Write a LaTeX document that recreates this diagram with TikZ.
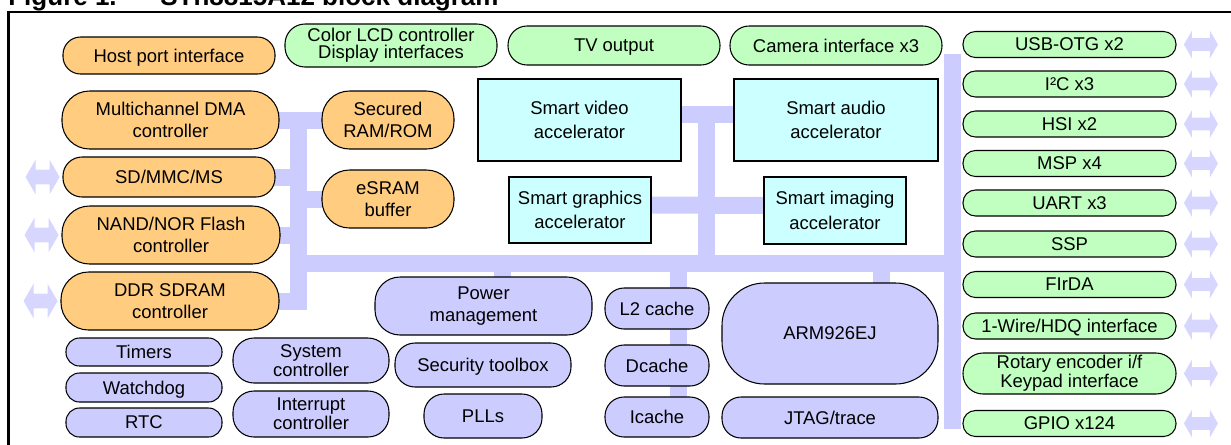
\documentclass[tikz,border=0pt]{standalone}
\usepackage{fontspec}
\setmainfont{Liberation Sans}
\usepackage{tikz}
\usetikzlibrary{shapes.arrows,positioning,backgrounds}
\usepackage{xcolor}
\definecolor{storange}{RGB}{255,204,128}
\definecolor{stgreen}{RGB}{192,255,192}
\definecolor{stcyan}{RGB}{204,255,255}
\definecolor{stlav}{RGB}{204,204,255}
\definecolor{stlavlight}{RGB}{214,214,255}
\tikzstyle{blk} = [draw=black, line width=0.6pt, inner sep=0pt, align=center, text depth=0pt, font=\fontsize{10.5}{12.5}\selectfont]
\tikzstyle{twoline} = [text depth={}]
\tikzstyle{orangebox} = [blk, fill=storange, rounded corners=0.55cm]
\tikzstyle{greenbox} = [blk, fill=stgreen, rounded corners=0.25cm]
\tikzstyle{cyanbox} = [blk, twoline, fill=stcyan, line width=1.2pt, font=\fontsize{10.5}{14}\selectfont]
\tikzstyle{lavbox} = [blk, fill=stlav, rounded corners=0.38cm]
\tikzstyle{tight} = [twoline, font=\fontsize{10.5}{9.5}\selectfont]
\tikzstyle{bus} = [line width=0.34cm, color=stlav, line cap=rect]
\tikzstyle{ioleft} = [double arrow, fill=stlavlight, inner xsep=0pt, inner ysep=0.14cm, minimum height=0.68cm, minimum width=0.68cm, double arrow head extend=0.2cm, double arrow tip angle=120]
\tikzstyle{ioright} = [double arrow, fill=stlavlight, inner xsep=0pt, inner ysep=0.12cm, minimum height=0.68cm, minimum width=0.54cm, double arrow head extend=0.15cm, double arrow tip angle=120]

\begin{document}
\begin{tikzpicture}
    \useasboundingbox (0,0) rectangle (24.62,-8.88);

    % Caption and frame
    \node[anchor=base west, font=\fontsize{14.8}{16}\selectfont\bfseries, inner sep=0pt] (fig) at (0.16,-0.10) {Figure 1.};
    \node[anchor=base west, font=\fontsize{14.8}{16}\selectfont\bfseries, inner sep=0pt] (caption) at (3.2,-0.10) {STn8815A12 block diagram};
    \draw[line width=1.4pt] (0.17,-9.2) -- (0.17,-0.24) -- (25,-0.24);

    % Memory and host side
    \node[orangebox, minimum width=4.24cm, minimum height=0.74cm, rounded corners=0.35cm] (host) at (3.38,-1.11) {Host port interface};
    \node[orangebox, twoline, minimum width=4.34cm, minimum height=1.16cm] (dma) at (3.41,-2.40) {Multichannel DMA\\controller};
    \node[orangebox, minimum width=4.24cm, minimum height=0.80cm, rounded corners=0.38cm] (sd) at (3.38,-3.54) {SD/MMC/MS};
    \node[orangebox, twoline, minimum width=4.36cm, minimum height=1.16cm] (nand) at (3.42,-4.70) {NAND/NOR Flash\\controller};
    \node[orangebox, twoline, minimum width=4.36cm, minimum height=1.16cm] (ddr) at (3.40,-6.02) {DDR SDRAM\\controller};
    \node[orangebox, twoline, minimum width=2.64cm, minimum height=1.16cm] (secured) at (7.76,-2.40) {Secured\\RAM/ROM};
    \node[orangebox, twoline, minimum width=2.64cm, minimum height=1.16cm] (esram) at (7.76,-3.98) {eSRAM\\buffer};

    % Display, video, camera
    \node[greenbox, tight, minimum width=4.24cm, minimum height=0.86cm, rounded corners=0.4cm] (lcd) at (7.82,-0.91) {Color LCD controller\\Display interfaces};
    \node[greenbox, minimum width=4.24cm, minimum height=0.78cm, rounded corners=0.38cm] (tv) at (12.28,-0.91) {TV output};
    \node[greenbox, minimum width=4.24cm, minimum height=0.78cm, rounded corners=0.38cm] (camera) at (16.72,-0.91) {Camera interface x3};

    % Accelerators
    \node[cyanbox, minimum width=4.06cm, minimum height=1.64cm] (video) at (11.59,-2.40) {Smart video\\accelerator};
    \node[cyanbox, minimum width=4.08cm, minimum height=1.64cm] (audio) at (16.72,-2.40) {Smart audio\\accelerator};
    \node[cyanbox, minimum width=2.84cm, minimum height=1.32cm] (graphics) at (11.60,-4.20) {Smart graphics\\accelerator};
    \node[cyanbox, minimum width=2.84cm, minimum height=1.34cm] (imaging) at (16.70,-4.21) {Smart imaging\\accelerator};

    % Peripherals
    \node[greenbox, minimum width=4.26cm, minimum height=0.52cm] (usb) at (21.39,-0.89) {USB-OTG x2};
    \node[greenbox, minimum width=4.26cm, minimum height=0.52cm] (i2c) at (21.39,-1.68) {I²C x3};
    \node[greenbox, minimum width=4.26cm, minimum height=0.52cm] (hsi) at (21.39,-2.48) {HSI x2};
    \node[greenbox, minimum width=4.26cm, minimum height=0.52cm] (msp) at (21.39,-3.27) {MSP x4};
    \node[greenbox, minimum width=4.26cm, minimum height=0.52cm] (uart) at (21.39,-4.06) {UART x3};
    \node[greenbox, minimum width=4.26cm, minimum height=0.52cm] (ssp) at (21.39,-4.88) {SSP};
    \node[greenbox, minimum width=4.26cm, minimum height=0.52cm] (firda) at (21.39,-5.69) {FIrDA};
    \node[greenbox, minimum width=4.26cm, minimum height=0.52cm] (onewire) at (21.39,-6.52) {1-Wire/HDQ interface};
    \node[greenbox, tight, minimum width=4.26cm, minimum height=0.82cm, rounded corners=0.4cm] (rotary) at (21.39,-7.47) {Rotary encoder i/f\\Keypad interface};
    \node[greenbox, minimum width=4.26cm, minimum height=0.52cm] (gpio) at (21.39,-8.47) {GPIO x124};

    % System blocks
    \node[lavbox, twoline, minimum width=4.34cm, minimum height=1.16cm, rounded corners=0.5cm] (power) at (9.67,-6.12) {Power\\management};
    \node[lavbox, minimum width=2.08cm, minimum height=0.82cm] (l2) at (13.14,-6.17) {L2 cache};
    \node[lavbox, minimum width=2.08cm, minimum height=0.82cm] (dcache) at (13.14,-7.31) {Dcache};
    \node[lavbox, minimum width=2.08cm, minimum height=0.80cm] (icache) at (13.14,-8.34) {Icache};
    \node[lavbox, minimum width=3.52cm, minimum height=0.88cm, rounded corners=0.4cm] (security) at (9.66,-7.30) {Security toolbox};
    \node[lavbox, minimum width=2.36cm, minimum height=0.88cm, rounded corners=0.4cm] (plls) at (9.66,-8.32) {PLLs};
    \node[lavbox, minimum width=4.32cm, minimum height=2.02cm, rounded corners=0.85cm] (arm) at (16.60,-6.67) {ARM926EJ};
    \node[lavbox, minimum width=4.32cm, minimum height=0.82cm] (jtag) at (16.60,-8.35) {JTAG/trace};
    \node[lavbox, minimum width=3.12cm, minimum height=0.56cm, rounded corners=0.27cm] (timers) at (2.88,-7.04) {Timers};
    \node[lavbox, minimum width=3.12cm, minimum height=0.58cm, rounded corners=0.27cm] (watchdog) at (2.88,-7.75) {Watchdog};
    \node[lavbox, minimum width=3.12cm, minimum height=0.58cm, rounded corners=0.27cm] (rtc) at (2.88,-8.45) {RTC};
    \node[lavbox, tight, minimum width=3.12cm, minimum height=0.90cm, rounded corners=0.42cm] (sysctl) at (6.22,-7.21) {System\\controller};
    \node[lavbox, tight, minimum width=3.12cm, minimum height=0.92cm, rounded corners=0.42cm] (intctl) at (6.22,-8.28) {Interrupt\\controller};

    % External I/O arrows
    \node[ioleft, left=0.05cm of sd] (sdio) {};
    \node[ioleft, left=0.05cm of nand] (nandio) {};
    \node[ioleft, left=0.05cm of ddr] (ddrio) {};
    \node[ioright, right=0.14cm of usb] (usbio) {};
    \node[ioright, right=0.14cm of i2c] (i2cio) {};
    \node[ioright, right=0.14cm of hsi] (hsiio) {};
    \node[ioright, right=0.14cm of msp] (mspio) {};
    \node[ioright, right=0.14cm of uart] (uartio) {};
    \node[ioright, right=0.14cm of ssp] (sspio) {};
    \node[ioright, right=0.14cm of firda] (firdaio) {};
    \node[ioright, right=0.14cm of onewire] (onewireio) {};
    \node[ioright, right=0.14cm of rotary] (rotaryio) {};
    \node[ioright, right=0.14cm of gpio] (gpioio) {};

    % Bus
    \coordinate (lspine) at (5.97,-2.40);
    \coordinate (mbus) at (5.97,-5.27);
    \coordinate (rtop) at (19.05,-1.25);
    \coordinate (rbot) at (19.05,-8.41);
    \coordinate (vmid) at (14.13,-2.28);
    \begin{scope}[on background layer]
        \draw[bus] (dma.east) -- (secured.west);
        \draw[bus] (lspine) -- (lspine |- ddr.east);
        \draw[bus] (sd.east) -- (sd.east -| lspine);
        \draw[bus] (nand.east) -- (nand.east -| lspine);
        \draw[bus] (ddr.east) -- (ddr.east -| lspine);
        \draw[bus] (esram.west) -- (esram.west -| lspine);
        \draw[bus] (mbus) -- (mbus -| rtop);
        \draw[bus] (rtop) -- (rbot);
        \draw[bus] ([yshift=1.2mm]video.east) -- ([yshift=1.2mm]audio.west);
        \draw[bus] (vmid) -- (vmid |- mbus);
        \draw[bus] ([yshift=1mm]graphics.east) -- ([yshift=1mm]imaging.west);
        \draw[bus] ([xshift=3.8mm]power.north) -- ([xshift=3.8mm]power.north |- mbus);
        \draw[bus] ([xshift=4.3mm]icache.north) -- ([xshift=4.3mm]icache.north |- mbus);
        \draw[bus] ([xshift=10.3mm]arm.north) -- ([xshift=10.3mm]arm.north |- mbus);
    \end{scope}
\end{tikzpicture}
\end{document}
